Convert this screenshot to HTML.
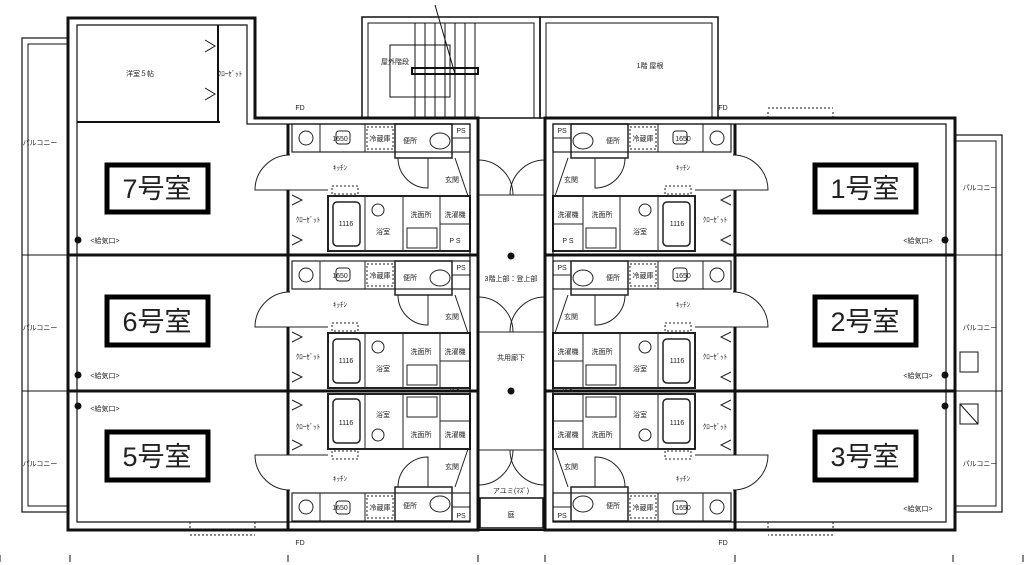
<!DOCTYPE html>
<html><head><meta charset="utf-8"><style>
html,body{margin:0;padding:0;background:#fff;width:1024px;height:565px;overflow:hidden}
svg{display:block}
text{font-family:"Liberation Sans","Noto Sans CJK JP",sans-serif;fill:#222}
.s{font-size:7px}
.big{font-size:27px;fill:#000}
</style></head><body>
<svg width="1024" height="565" viewBox="0 0 1024 565" xmlns="http://www.w3.org/2000/svg">
<defs>
<g id="unit" fill="none" stroke="#222">
  <rect x="292" y="124" width="178" height="28" stroke-width="1.2"/>
  <line x1="320" y1="124" x2="320" y2="152"/>
  <line x1="365" y1="124" x2="365" y2="152"/>
  <line x1="395" y1="124" x2="395" y2="152"/>
  <circle cx="306" cy="138" r="7"/>
  <rect x="336" y="131" width="14" height="13" rx="3"/>
  <rect x="367" y="127" width="26" height="22" stroke-dasharray="2 2"/>
  <rect x="395" y="124" width="57" height="34" stroke-width="1.5"/>
  <ellipse cx="440" cy="141" rx="10" ry="8"/>
  <rect x="452" y="124" width="18" height="14"/>
  <path d="M290,190 L255,190 A35,35 0 0 1 290,155"/>
  <path d="M478,160 A35,35 0 0 1 513,195 L478,195"/>
  <path d="M398,158 A30,30 0 0 0 428,188 L428,158"/>
  <line x1="455" y1="158" x2="468" y2="196"/>
  <rect x="332" y="186" width="26" height="8" stroke-dasharray="2 2"/>
  <rect x="328" y="196" width="142" height="55" stroke-width="2"/>
  <line x1="365" y1="196" x2="365" y2="251"/>
  <line x1="403" y1="196" x2="403" y2="251"/>
  <line x1="440" y1="196" x2="440" y2="251"/>
  <rect x="333" y="202" width="27" height="44" rx="4" stroke-width="1.5"/>
  <circle cx="378" cy="210" r="6"/>
  <rect x="440" y="196" width="30" height="28"/>
  <rect x="407" y="228" width="30" height="20"/>
  <line x1="290" y1="190" x2="328" y2="190"/>
  <path d="M292,195 L302,200 L292,205 M292,235 L302,240 L292,245"/>
</g>
<g id="half" fill="none" stroke="#111">
  <use href="#unit"/>
  <use href="#unit" transform="translate(0,137)"/>
  <use href="#unit" transform="translate(0,782) scale(1,-1) translate(0,137)"/>
  <line x1="68" y1="255" x2="478" y2="255" stroke-width="3"/>
  <line x1="68" y1="391" x2="478" y2="391" stroke-width="3"/>
  <line x1="288" y1="124" x2="288" y2="155" stroke-width="3"/>
  <line x1="288" y1="190" x2="288" y2="292" stroke-width="3"/>
  <line x1="288" y1="327" x2="288" y2="455" stroke-width="3"/>
  <line x1="288" y1="490" x2="288" y2="530" stroke-width="3"/>
  <line x1="0" y1="555" x2="0" y2="562"/>
  <line x1="70" y1="555" x2="70" y2="562"/>
  <line x1="288" y1="555" x2="288" y2="562"/>
  <line x1="478" y1="555" x2="478" y2="562"/>
  <circle cx="78" cy="240" r="3" fill="#111"/>
  <circle cx="78" cy="375" r="3" fill="#111"/>
  <circle cx="78" cy="406" r="3" fill="#111"/>
  <path d="M190,522 V530 M255,522 V530 M190,535 H255" stroke-dasharray="2 2"/>
</g>
</defs>

<use href="#half"/>
<use href="#half" transform="translate(1023,0) scale(-1,1)"/>

<g fill="none" stroke="#111">
  <!-- left building -->
  <path d="M68,18 H255 V118 H478 V530 H68 Z" stroke-width="3"/>
  <path d="M77,25 H247 V124 H470 V522 H77 Z" stroke-width="1.2"/>
  <line x1="77" y1="122" x2="220" y2="122" stroke-width="2"/>
  <line x1="218" y1="25" x2="218" y2="122" stroke-width="2"/>
  <path d="M205,40 L215,46 L205,52 M205,88 L215,94 L205,100"/>
  <rect x="22" y="38" width="46" height="474" stroke-width="1.2"/>
  <rect x="28" y="44" width="40" height="462"/>
  <line x1="22" y1="255" x2="68" y2="255"/>
  <line x1="22" y1="391" x2="68" y2="391"/>
  <!-- right building -->
  <path d="M545,118 H955 V530 H545 Z" stroke-width="3"/>
  <path d="M553,124 H946 V522 H553 Z" stroke-width="1.2"/>
  <rect x="955" y="135" width="47" height="377" stroke-width="1.2"/>
  <rect x="955" y="141" width="41" height="365"/>
  <line x1="955" y1="255" x2="1002" y2="255"/>
  <line x1="955" y1="391" x2="1002" y2="391"/>
  <rect x="960" y="352" width="18" height="20"/>
  <rect x="960" y="404" width="18" height="20"/>
  <path d="M960,404 L978,424"/>
  <path d="M768,118 V110 M833,118 V110 M768,108 H833" stroke-dasharray="2 2"/>
  <!-- stair & roof -->
  <rect x="362" y="17" width="178" height="101" stroke-width="1.5"/>
  <rect x="368" y="23" width="166" height="95"/>
  <rect x="540" y="17" width="178" height="101" stroke-width="1.5"/>
  <rect x="546" y="23" width="166" height="95"/>
  <path d="M415,23 V118 M425,23 V118 M435,23 V118 M445,23 V118 M455,23 V118 M465,23 V118 M475,23 V118"/>
  <rect x="412" y="68" width="66" height="6" stroke-width="2"/>
  <rect x="390" y="45" width="60" height="52"/>
  <line x1="435" y1="5" x2="455" y2="74"/>
  <path d="M475,74 V118" stroke-dasharray="2 2"/>
  <rect x="480" y="498" width="63" height="30" stroke-width="1.5"/>
  <circle cx="511" cy="256" r="3" fill="#111"/>
  <circle cx="511" cy="391" r="3" fill="#111"/>
  <line x1="478" y1="530" x2="545" y2="530" stroke-width="2"/>
</g>

<g fill="#fff" stroke="#000" stroke-width="5">
  <rect x="107" y="165" width="101" height="47"/>
  <rect x="107" y="297" width="101" height="48"/>
  <rect x="107" y="432" width="101" height="48"/>
  <rect x="815" y="165" width="101" height="47"/>
  <rect x="815" y="297" width="101" height="48"/>
  <rect x="815" y="432" width="101" height="48"/>
</g>
<g class="big" text-anchor="middle">
  <text x="157" y="198">7号室</text>
  <text x="157" y="331">6号室</text>
  <text x="157" y="466">5号室</text>
  <text x="865" y="198">1号室</text>
  <text x="865" y="331">2号室</text>
  <text x="865" y="466">3号室</text>
</g>

<g class="s" text-anchor="middle">
  <text x="140" y="76">洋室５帖</text>
  <text x="230" y="76">ｸﾛｰｾﾞｯﾄ</text>
  <text x="395" y="64">屋外階段</text>
  <text x="650" y="68">1階 屋根</text>
  <text x="511" y="360">共用廊下</text>
  <text x="511" y="281">3階上部：登上部</text>
  <text x="511" y="493">アユミ(ﾏｽﾞ)</text>
  <text x="511" y="517">庭</text>
  <text x="40" y="145">パルコニー</text>
  <text x="40" y="330">パルコニー</text>
  <text x="40" y="466">パルコニー</text>
  <text x="980" y="190">パルコニー</text>
  <text x="980" y="330">パルコニー</text>
  <text x="980" y="466">パルコニー</text>
  <text x="105" y="243">&lt;給気口&gt;</text>
  <text x="105" y="378">&lt;給気口&gt;</text>
  <text x="105" y="411">&lt;給気口&gt;</text>
  <text x="918" y="243">&lt;給気口&gt;</text>
  <text x="918" y="378">&lt;給気口&gt;</text>
  <text x="918" y="511">&lt;給気口&gt;</text>
  <text x="340" y="141">1650</text><text x="380" y="141">冷蔵庫</text><text x="410" y="143">便所</text><text x="461" y="133">PS</text>
  <text x="340" y="170">ｷｯﾁﾝ</text><text x="452" y="182">玄関</text><text x="308" y="222">ｸﾛｰｾﾞｯﾄ</text>
  <text x="346" y="226">1116</text><text x="383" y="234">浴室</text><text x="421" y="217">洗面所</text><text x="455" y="217">洗濯機</text><text x="455" y="243">P S</text>
  <text x="340" y="278">1650</text><text x="380" y="278">冷蔵庫</text><text x="410" y="280">便所</text><text x="461" y="270">PS</text>
  <text x="340" y="307">ｷｯﾁﾝ</text><text x="452" y="319">玄関</text><text x="308" y="359">ｸﾛｰｾﾞｯﾄ</text>
  <text x="346" y="363">1116</text><text x="383" y="371">浴室</text><text x="421" y="354">洗面所</text><text x="455" y="354">洗濯機</text><text x="455" y="392">P S</text>
  <text x="340" y="510">1650</text><text x="380" y="510">冷蔵庫</text><text x="410" y="508">便所</text><text x="461" y="518">PS</text>
  <text x="340" y="481">ｷｯﾁﾝ</text><text x="452" y="469">玄関</text><text x="308" y="429">ｸﾛｰｾﾞｯﾄ</text>
  <text x="346" y="425">1116</text><text x="383" y="417">浴室</text><text x="421" y="437">洗面所</text><text x="455" y="437">洗濯機</text>
  <text x="683" y="141">1650</text><text x="643" y="141">冷蔵庫</text><text x="613" y="143">便所</text><text x="562" y="133">PS</text>
  <text x="683" y="170">ｷｯﾁﾝ</text><text x="571" y="182">玄関</text><text x="715" y="222">ｸﾛｰｾﾞｯﾄ</text>
  <text x="677" y="226">1116</text><text x="640" y="234">浴室</text><text x="602" y="217">洗面所</text><text x="568" y="217">洗濯機</text><text x="568" y="243">P S</text>
  <text x="683" y="278">1650</text><text x="643" y="278">冷蔵庫</text><text x="613" y="280">便所</text><text x="562" y="270">PS</text>
  <text x="683" y="307">ｷｯﾁﾝ</text><text x="571" y="319">玄関</text><text x="715" y="359">ｸﾛｰｾﾞｯﾄ</text>
  <text x="677" y="363">1116</text><text x="640" y="371">浴室</text><text x="602" y="354">洗面所</text><text x="568" y="354">洗濯機</text><text x="568" y="392">P S</text>
  <text x="683" y="510">1650</text><text x="643" y="510">冷蔵庫</text><text x="613" y="508">便所</text><text x="562" y="518">PS</text>
  <text x="683" y="481">ｷｯﾁﾝ</text><text x="571" y="469">玄関</text><text x="715" y="429">ｸﾛｰｾﾞｯﾄ</text>
  <text x="677" y="425">1116</text><text x="640" y="417">浴室</text><text x="602" y="437">洗面所</text><text x="568" y="437">洗濯機</text>
  <text x="300" y="110">FD</text><text x="723" y="110">FD</text><text x="300" y="545">FD</text><text x="723" y="545">FD</text>
</g>
</svg>
</body></html>
